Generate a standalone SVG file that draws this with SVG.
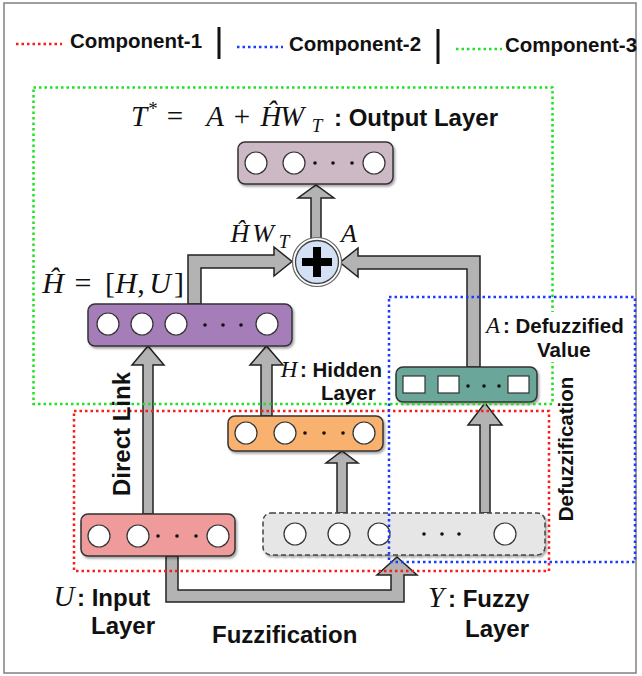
<svg xmlns="http://www.w3.org/2000/svg" width="642" height="676" viewBox="0 0 642 676">
  <defs>
    <filter id="shadow" x="-10%" y="-20%" width="130%" height="160%">
      <feDropShadow dx="1.5" dy="2" stdDeviation="1.2" flood-color="#000" flood-opacity="0.35"/>
    </filter>
  </defs>
  <style>
    .sans { font-family: "Liberation Sans", Arial, sans-serif; font-weight: bold; fill: #111; }
    .big { font-size: 24px; }
    .small { font-size: 20.5px; }
    .math { font-family: "Liberation Serif", "Times New Roman", serif; font-style: italic; fill: #111; text-anchor: middle; }
    .rm { font-family: "Liberation Serif", "Times New Roman", serif; font-style: normal; fill: #111; text-anchor: middle; }
    .f30 { font-size: 30px; }
    .f29 { font-size: 29px; }
    .f26 { font-size: 26px; }
    .f23 { font-size: 23px; }
    .sub { font-size: 19px; }
    .layer { stroke: #333; stroke-width: 1.5; filter: url(#shadow); }
    .fuzzy { fill: #e6e6e6; stroke: #444; stroke-width: 1.5; stroke-dasharray: 5 3; filter: url(#shadow); }
    .unit { fill: #fff; stroke: #333; stroke-width: 1.2; }
    .dot { fill: #111; }
    .arrow { fill: #b3b3b3; stroke: #222; stroke-width: 1.5; stroke-linejoin: miter; }
    .zone { fill: none; stroke-width: 2.5; stroke-dasharray: 2.5 3; }
  </style>

  <!-- frame -->
  <rect x="4" y="3" width="632" height="670" fill="#fff" stroke="#808080" stroke-width="1.5"/>

  <!-- legend -->
  <g id="legend">
    <line x1="16" y1="44" x2="62" y2="44" class="zone" stroke="#ff1a1a"/>
    <text x="70" y="48" class="sans small">Component-1</text>
    <line x1="219" y1="27" x2="219" y2="59" stroke="#111" stroke-width="3"/>
    <line x1="237" y1="47" x2="283" y2="47" class="zone" stroke="#1a3cff"/>
    <text x="289" y="51" class="sans small">Component-2</text>
    <line x1="438" y1="29" x2="438" y2="64" stroke="#111" stroke-width="3"/>
    <line x1="456" y1="49" x2="502" y2="49" class="zone" stroke="#22e022"/>
    <text x="505" y="52" class="sans small">Component-3</text>
  </g>

  <!-- connectors -->
  <g id="connectors">
    <!-- sum to output layer -->
    <polygon class="arrow" points="311,240 311,198 298,198 316,185 334,198 321,198 321,240"/>
    <!-- concatenated layer to sum -->
    <polygon class="arrow" points="188,304 188,255 274,255 274,247 292,261.5 274,276 274,268 201,268 201,304"/>
    <!-- defuzzified value to sum -->
    <polygon class="arrow" points="467,367 467,269 358,269 358,277 340,262.5 358,248 358,256 480,256 480,367"/>
    <!-- direct link: input to concatenated layer -->
    <polygon class="arrow" points="143,514 143,365 132,365 148,346 164,365 153,365 153,514"/>
    <!-- hidden to concatenated layer -->
    <polygon class="arrow" points="261,416 261,365 250,365 266.5,346 283,365 272,365 272,416"/>
    <!-- fuzzy to hidden -->
    <polygon class="arrow" points="337,513 337,463 326,463 342,451 358,463 347,463 347,513"/>
    <!-- fuzzy to defuzzified -->
    <polygon class="arrow" points="480,513 480,425 468,425 485,403 502,425 490,425 490,513"/>
    <!-- fuzzification: input to fuzzy -->
    <polygon class="arrow" points="166,556 166,602 404,602 404,575 417,575 397,557 377,575 391,575 391,590 178,590 178,556"/>
  </g>

  <!-- output layer -->
  <g id="output-layer">
    <rect class="layer" x="238" y="142" width="155" height="42" rx="7" fill="#cdb9c5"/>
    <circle class="unit" cx="256" cy="163" r="11"/>
    <circle class="unit" cx="294" cy="163" r="11"/>
    <circle class="unit" cx="374" cy="163" r="11"/>
    <circle class="dot" cx="315" cy="163" r="1.8"/>
    <circle class="dot" cx="333" cy="163" r="1.8"/>
    <circle class="dot" cx="352" cy="163" r="1.8"/>
  </g>

  <!-- sum node -->
  <g id="sum">
    <circle cx="317" cy="262" r="24.5" fill="#fff" stroke="#666" stroke-width="1.2"/>
    <circle cx="317" cy="262" r="21.5" fill="#d4e1f4" stroke="#444" stroke-width="1.3"/>
    <rect x="302" y="258" width="30" height="8" fill="#000"/>
    <rect x="313" y="247" width="8" height="30" fill="#000"/>
  </g>

  <!-- concatenated layer -->
  <g id="concat-layer">
    <rect class="layer" x="88" y="304" width="204" height="42" rx="7" fill="#a57db8"/>
    <circle class="unit" cx="108" cy="324" r="11"/>
    <circle class="unit" cx="142" cy="324" r="11"/>
    <circle class="unit" cx="176" cy="324" r="11"/>
    <circle class="unit" cx="267" cy="324" r="11"/>
    <circle class="dot" cx="205" cy="325" r="1.8"/>
    <circle class="dot" cx="223" cy="325" r="1.8"/>
    <circle class="dot" cx="241" cy="325" r="1.8"/>
  </g>

  <!-- defuzzified layer -->
  <g id="defuzz-layer">
    <rect class="layer" x="396" y="367" width="141" height="35" rx="7" fill="#6ba79a"/>
    <rect class="unit" x="403" y="376" width="22" height="17"/>
    <rect class="unit" x="438" y="376" width="21" height="17"/>
    <rect class="unit" x="508" y="376" width="21" height="17"/>
    <circle class="dot" cx="468" cy="386" r="1.8"/>
    <circle class="dot" cx="484" cy="386" r="1.8"/>
    <circle class="dot" cx="499" cy="386" r="1.8"/>
  </g>

  <!-- hidden layer -->
  <g id="hidden-layer">
    <rect class="layer" x="228" y="416" width="155" height="35" rx="7" fill="#f8b16e"/>
    <circle class="unit" cx="246" cy="433" r="11"/>
    <circle class="unit" cx="285" cy="433" r="11"/>
    <circle class="unit" cx="364" cy="433" r="11"/>
    <circle class="dot" cx="305" cy="433" r="1.8"/>
    <circle class="dot" cx="324" cy="433" r="1.8"/>
    <circle class="dot" cx="343" cy="433" r="1.8"/>
  </g>

  <!-- input layer -->
  <g id="input-layer">
    <rect class="layer" x="81" y="514" width="154" height="42" rx="7" fill="#ef9b9b"/>
    <circle class="unit" cx="99" cy="536" r="11"/>
    <circle class="unit" cx="138" cy="536" r="11"/>
    <circle class="unit" cx="218" cy="536" r="11"/>
    <circle class="dot" cx="158" cy="536" r="1.8"/>
    <circle class="dot" cx="177" cy="536" r="1.8"/>
    <circle class="dot" cx="196" cy="536" r="1.8"/>
  </g>

  <!-- fuzzy layer -->
  <g id="fuzzy-layer">
    <rect class="fuzzy" x="263" y="513" width="282" height="42" rx="8"/>
    <circle class="unit" cx="295" cy="534" r="11"/>
    <circle class="unit" cx="339" cy="534" r="11"/>
    <circle class="unit" cx="379" cy="534" r="11"/>
    <circle class="unit" cx="505" cy="534" r="11"/>
    <circle class="dot" cx="424" cy="534" r="1.8"/>
    <circle class="dot" cx="442" cy="534" r="1.8"/>
    <circle class="dot" cx="459" cy="534" r="1.8"/>
  </g>

  <!-- component regions -->
  <g id="components">
    <rect class="zone" x="33.5" y="87.5" width="519" height="316.5" stroke="#22e022"/>
    <rect class="zone" x="74" y="411" width="475" height="160" stroke="#ff1a1a"/>
    <rect class="zone" x="389" y="297" width="246" height="265" stroke="#1a3cff"/>
  </g>

  <!-- labels -->
  <g id="labels">
    <!-- output equation -->
    <text x="139" y="126" class="math f29">T</text>
    <text x="153" y="115" class="rm sub">*</text>
    <text x="175" y="126" class="rm f29">=</text>
    <text x="215" y="126" class="math f29">A</text>
    <text x="242" y="126" class="rm f29">+</text>
    <text x="271" y="126" class="math f29">Ĥ</text>
    <text x="292" y="126" class="math f29">W</text>
    <text x="317" y="132" class="math sub">T</text>
    <text x="334" y="126" class="sans big">: Output Layer</text>

    <!-- inputs of the sum -->
    <text x="240" y="242" class="math f26">Ĥ</text>
    <text x="263" y="242" class="math f26">W</text>
    <text x="284" y="248" class="math sub">T</text>
    <text x="349" y="242" class="math f26">A</text>

    <!-- concatenation -->
    <text x="53" y="293" class="math f30">Ĥ</text>
    <text x="83" y="293" class="rm f30">=</text>
    <text x="110" y="293" class="rm f30">[</text>
    <text x="126" y="293" class="math f30">H</text>
    <text x="141" y="293" class="rm f30">,</text>
    <text x="160" y="293" class="math f30">U</text>
    <text x="179" y="293" class="rm f30">]</text>

    <rect x="483" y="312" width="144" height="50" fill="#fff"/>
    <text x="493" y="333" class="math f23">A</text>
    <text x="503" y="333" class="sans small">: Defuzzified</text>
    <text x="537" y="357" class="sans small">Value</text>

    <text x="289" y="377" class="math f23">H</text>
    <text x="300" y="377" class="sans small">: Hidden</text>
    <text x="321" y="400" class="sans small">Layer</text>

    <text transform="translate(130,434) rotate(-90)" text-anchor="middle" class="sans big">Direct Link</text>
    <text transform="translate(573,449) rotate(-90)" text-anchor="middle" class="sans small">Defuzzification</text>

    <text x="64" y="606" class="math f29">U</text>
    <text x="77" y="606" class="sans big">: Input</text>
    <text x="91" y="634" class="sans big">Layer</text>

    <text x="212" y="643" class="sans big">Fuzzification</text>

    <text x="436" y="607" class="math f29">Y</text>
    <text x="448" y="607" class="sans big">: Fuzzy</text>
    <text x="465" y="637" class="sans big">Layer</text>
  </g>
</svg>
